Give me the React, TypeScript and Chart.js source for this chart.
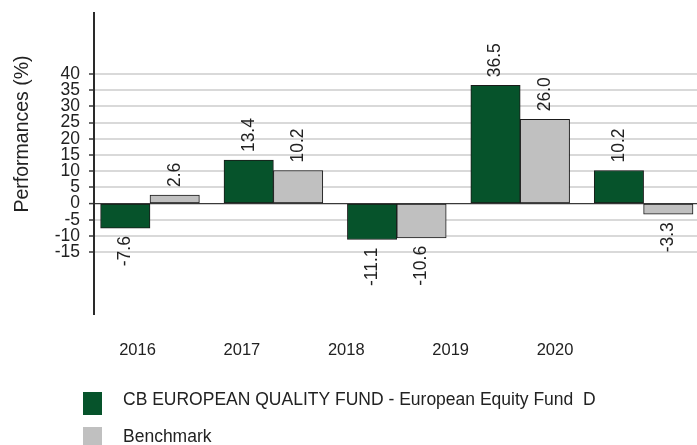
import React, { useEffect, useRef } from 'react';
import { Chart, registerables } from 'chart.js';

Chart.register(...registerables);

const years = ['2016', '2017', '2018', '2019', '2020'];
const fundValues = [-7.6, 13.4, -11.1, 36.5, 10.2];
const benchmarkValues = [2.6, 10.2, -10.6, 26.0, -3.3];
const yTickValues = [-15, -10, -5, 0, 5, 10, 15, 20, 25, 30, 35, 40];
const fundLabel = 'CB EUROPEAN QUALITY FUND - European Equity Fund  D';
const benchmarkLabel = 'Benchmark';
const yTitle = 'Performances (%)';

const FONT = "'Liberation Sans', Arial, sans-serif";
const GREEN = '#06532b';
const GREY = '#c0c0c0';
const TEXT = '#222222';

const Y_MIN = -34.1;
const Y_MAX = 58.8;
const BAR_X_MIN = -0.4538;
const BAR_X_MAX = 4.4327;
const LABEL_X_MIN = -0.4168;
const LABEL_X_MAX = 5.3605;

const valueLabels = {
  id: 'valueLabels',
  afterDatasetsDraw(chart: any) {
    const ctx = chart.ctx as CanvasRenderingContext2D;
    ctx.save();
    ctx.font = `17.5px ${FONT}`;
    ctx.fillStyle = TEXT;
    ctx.textBaseline = 'middle';
    chart.data.datasets.forEach((ds: any, di: number) => {
      const meta = chart.getDatasetMeta(di);
      meta.data.forEach((el: any, i: number) => {
        const v = ds.data[i].y as number;
        const { x, y } = el.getProps(['x', 'y'], true);
        ctx.save();
        if (v >= 0) {
          ctx.translate(x, y - 8);
          ctx.rotate(-Math.PI / 2);
          ctx.textAlign = 'left';
        } else {
          ctx.translate(x, y + 8);
          ctx.rotate(-Math.PI / 2);
          ctx.textAlign = 'right';
        }
        ctx.fillText(v.toFixed(1), 0, 0);
        ctx.restore();
      });
    });
    ctx.restore();
  },
};

const extras = {
  id: 'extras',
  afterDraw(chart: any) {
    const ctx = chart.ctx as CanvasRenderingContext2D;
    ctx.save();
    // y axis title
    ctx.font = `19.5px ${FONT}`;
    ctx.fillStyle = TEXT;
    ctx.textAlign = 'center';
    ctx.textBaseline = 'middle';
    ctx.translate(23, 134);
    ctx.rotate(-Math.PI / 2);
    ctx.fillText(yTitle, 0, 0);
    ctx.restore();

    // legend
    ctx.save();
    const boxTops = [392, 427];
    const baselines = [405, 442];
    chart.data.datasets.forEach((ds: any, i: number) => {
      ctx.fillStyle = ds.backgroundColor;
      ctx.fillRect(83, boxTops[i], 19, 23);
      ctx.fillStyle = TEXT;
      ctx.font = `17.5px ${FONT}`;
      ctx.textAlign = 'left';
      ctx.textBaseline = 'alphabetic';
      ctx.fillText(ds.label, 123, baselines[i]);
    });
    ctx.restore();
  },
};

export default function App() {
  const canvasRef = useRef<HTMLCanvasElement | null>(null);

  useEffect(() => {
    if (!canvasRef.current) return;
    const chart = new Chart(canvasRef.current, {
      type: 'bar',
      data: {
        datasets: [
          {
            label: fundLabel,
            data: fundValues.map((v, i) => ({ x: i, y: v })),
            backgroundColor: GREEN,
            borderColor: '#1a1a1a',
            borderWidth: 1,
            borderSkipped: false,
            barThickness: 49.4,
          },
          {
            label: benchmarkLabel,
            data: benchmarkValues.map((v, i) => ({ x: i, y: v })),
            backgroundColor: GREY,
            borderColor: '#1a1a1a',
            borderWidth: 1,
            borderSkipped: false,
            barThickness: 49.4,
          },
        ],
      } as any,
      options: {
        animation: false,
        responsive: false,
        maintainAspectRatio: false,
        layout: { padding: { top: 13, left: 0, right: 0, bottom: 0 } },
        plugins: { legend: { display: false }, tooltip: { enabled: false } },
        scales: {
          x: {
            type: 'linear',
            display: false,
            offset: false,
            min: BAR_X_MIN,
            max: BAR_X_MAX,
          },
          xLabels: {
            type: 'linear',
            axis: 'x',
            position: 'bottom',
            offset: false,
            min: LABEL_X_MIN,
            max: LABEL_X_MAX,
            grid: { display: false, drawTicks: false },
            border: { display: false },
            ticks: {
              padding: 27,
              autoSkip: false,
              maxRotation: 0,
              color: TEXT,
              font: { family: FONT, size: 16.5 },
              callback: (v: any) => years[v] ?? '',
            },
            afterBuildTicks: (axis: any) => {
              axis.ticks = years.map((_, i) => ({ value: i }));
            },
            afterFit: (s: any) => {
              s.height = 131;
              s.paddingLeft = 0;
              s.paddingRight = 0;
            },
          },
          y: {
            type: 'linear',
            min: Y_MIN,
            max: Y_MAX,
            afterBuildTicks: (axis: any) => {
              axis.ticks = yTickValues.map((v) => ({ value: v }));
            },
            ticks: {
              padding: 9,
              autoSkip: false,
              color: TEXT,
              font: { family: FONT, size: 17.5 },
              callback: (v: any) => String(v),
            },
            grid: {
              color: (c: any) => (c.tick && c.tick.value === 0 ? '#3a3a3a' : '#d9d9d9'),
              lineWidth: (c: any) => (c.tick && c.tick.value === 0 ? 1.2 : 2),
              tickLength: 5,
              tickColor: '#3a3a3a',
              tickWidth: 1.5,
            },
            border: { display: true, color: '#2a2a2a', width: 2 },
            afterFit: (s: any) => {
              s.width = 94;
              s.paddingTop = 0;
              s.paddingBottom = 0;
            },
          },
        } as any,
      },
      plugins: [valueLabels, extras],
    });
    return () => chart.destroy();
  }, []);

  return (
    <div style={{ position: 'absolute', left: 0, top: 0, width: 697, height: 445 }}>
      <canvas ref={canvasRef} width={697} height={445} style={{ display: 'block' }} />
    </div>
  );
}
